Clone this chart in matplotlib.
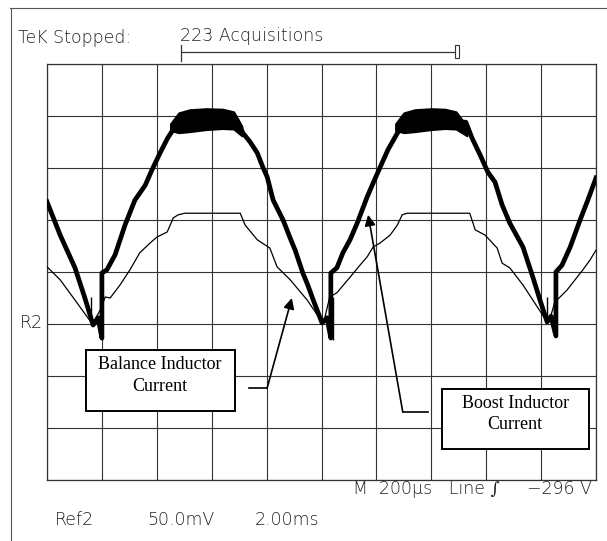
import numpy as np
import matplotlib.pyplot as plt
from matplotlib.patches import Rectangle
from matplotlib.lines import Line2D

# screen is 10 x 8 divisions, values below are in divisions
boost_x = [0.00, 0.24, 0.51, 0.69, 0.84, 0.93, 1.00, 1.00, 1.09, 1.24, 1.42, 1.60, 1.79,
           1.91, 2.06, 2.20, 2.33, 2.42, 2.93, 3.46, 3.57, 3.70, 3.83, 3.93, 4.01, 4.12,
           4.30, 4.43, 4.52, 4.66, 4.75, 4.85, 5.01, 5.10, 5.17, 5.17, 5.28, 5.39, 5.52,
           5.65, 5.83, 5.94, 6.07, 6.21, 6.36, 6.47, 7.07, 7.63, 7.74, 7.89, 8.03, 8.16,
           8.29, 8.43, 8.67, 8.85, 8.98, 9.11, 9.18, 9.27, 9.27, 9.38, 9.53, 9.71, 9.85, 10.00]
boost_y = [5.35, 4.71, 4.08, 3.50, 2.98, 3.12, 2.73, 3.98, 4.04, 4.33, 4.90, 5.38, 5.67,
           5.96, 6.29, 6.58, 6.79, 6.88, 6.92, 6.92, 6.67, 6.50, 6.29, 6.02, 5.83, 5.38,
           5.00, 4.65, 4.42, 3.98, 3.75, 3.46, 3.02, 3.12, 2.73, 3.98, 4.08, 4.37, 4.62,
           4.94, 5.44, 5.71, 6.02, 6.35, 6.63, 6.83, 6.92, 6.88, 6.58, 6.25, 5.92, 5.73,
           5.29, 4.94, 4.48, 3.90, 3.46, 3.04, 3.15, 2.77, 4.00, 4.13, 4.48, 5.00, 5.38, 5.81]

# ripple envelope on the two peaks of the boost current
band1_x = [2.25, 2.40, 2.60, 2.90, 3.20, 3.40, 3.55]
band2_x = [6.35, 6.50, 6.70, 7.00, 7.25, 7.45, 7.65]
band_top = [6.85, 7.06, 7.12, 7.14, 7.13, 7.08, 6.80]
band_bot = [6.72, 6.68, 6.70, 6.74, 6.76, 6.75, 6.62]

bal_x = [0.00, 0.24, 0.51, 0.84, 0.89, 0.97, 1.06, 1.15, 1.33, 1.51, 1.69, 1.88, 2.00,
         2.19, 2.30, 2.39, 2.51, 3.52, 3.61, 3.83, 4.06, 4.19, 4.43, 4.74, 5.01, 5.06,
         5.15, 5.28, 5.52, 5.70, 5.83, 5.94, 6.07, 6.25, 6.38, 6.47, 6.56, 7.70, 7.80,
         7.98, 8.20, 8.29, 8.43, 8.67, 9.11, 9.18, 9.25, 9.47, 9.76, 9.89, 10.00]
bal_y = [4.10, 3.85, 3.46, 2.98, 3.12, 3.27, 3.52, 3.50, 3.75, 4.04, 4.37, 4.56, 4.67,
         4.77, 5.04, 5.10, 5.13, 5.13, 4.90, 4.62, 4.46, 4.10, 3.85, 3.46, 3.04, 3.12,
         3.52, 3.60, 3.90, 4.13, 4.29, 4.48, 4.56, 4.71, 4.90, 5.10, 5.13, 5.13, 4.81,
         4.71, 4.46, 4.17, 4.08, 3.75, 3.04, 3.17, 3.42, 3.65, 4.04, 4.23, 4.42]

# glitch spikes around the zero crossings
spike_x = [0.80, 1.00, 5.21, 9.11, 9.27]
spike_lo = [2.98, 2.70, 2.69, 3.04, 2.83]
spike_hi = [3.52, 3.10, 3.52, 3.52, 3.40]

W, H = 607, 541
fig = plt.figure(figsize=(W / 100, H / 100), dpi=100)
fig.patch.set_facecolor('white')

def fx(px):
    return px / W

def fy(py):
    return 1 - py / H

ax = fig.add_axes([fx(47), fy(480), (596 - 47) / W, (480 - 64) / H])
ax.set_xlim(0, 10)
ax.set_ylim(0, 8)
ax.set_xticks(np.arange(0, 11))
ax.set_yticks(np.arange(0, 9))
ax.tick_params(length=0, labelbottom=False, labelleft=False)
ax.grid(True, color='#333333', lw=0.8)
for s in ax.spines.values():
    s.set_color('#333333')
    s.set_linewidth(0.9)

# traces
ax.plot(bal_x, bal_y, color='black', lw=0.9, zorder=3)
ax.plot(boost_x, boost_y, color='black', lw=3.4, zorder=4, solid_joinstyle='round')
ax.fill_between(band1_x, band_bot, band_top, color='black', lw=1.5, edgecolor='black', zorder=4)
ax.fill_between(band2_x, band_bot, band_top, color='black', lw=1.5, edgecolor='black', zorder=4)
ax.vlines(spike_x, spike_lo, spike_hi, color='black', lw=1.0, zorder=4)

# label boxes
serif = 'Liberation Serif'
ax.add_patch(Rectangle((0.71, 1.33), 3.42 - 0.71, 2.50 - 1.33, facecolor='white',
                       edgecolor='black', lw=1.4, zorder=6))
ax.text(2.06, 2.23, 'Balance Inductor', ha='center', va='center', fontsize=13,
        family=serif, zorder=7)
ax.text(2.06, 1.79, 'Current', ha='center', va='center', fontsize=13, family=serif, zorder=7)
ax.plot([3.68, 4.01], [1.77, 1.77], color='black', lw=1.2, zorder=6)
ax.annotate('', xy=(4.46, 3.50), xytext=(4.01, 1.77),
            arrowprops=dict(arrowstyle='-|>', color='black', lw=1.2, mutation_scale=16,
                            shrinkA=0, shrinkB=0), zorder=6)

ax.add_patch(Rectangle((7.19, 0.60), 9.87 - 7.19, 1.75 - 0.60, facecolor='white',
                       edgecolor='black', lw=1.4, zorder=6, clip_on=False))
ax.text(8.53, 1.48, 'Boost Inductor', ha='center', va='center', fontsize=13,
        family=serif, zorder=7)
ax.text(8.53, 1.06, 'Current', ha='center', va='center', fontsize=13, family=serif, zorder=7)
ax.plot([6.94, 6.48], [1.31, 1.31], color='black', lw=1.2, zorder=6)
ax.annotate('', xy=(5.85, 5.10), xytext=(6.48, 1.31),
            arrowprops=dict(arrowstyle='-|>', color='black', lw=1.2, mutation_scale=16,
                            shrinkA=0, shrinkB=0), zorder=6)

# scope readouts
scope = dict(fontsize=12.5, color='#222222', family=['DejaVu Sans', 'DejaVu Serif'],
             fontweight='light', va='center')
fig.text(fx(18), fy(38), 'TeK Stopped:', **scope)
fig.text(fx(180), fy(36), '223 Acquisitions', **scope)
fig.text(fx(20), fy(323), 'R2', **scope)
fig.text(fx(353), fy(489), 'M  200\u00b5s   Line \u222b     \u2212296 V', **scope)
fig.text(fx(55), fy(520), 'Ref2', **scope)
fig.text(fx(147), fy(520), '50.0mV', **scope)
fig.text(fx(255), fy(520), '2.00ms', **scope)

# record-length bracket and screen frame
fig.add_artist(Line2D([fx(182), fx(455)], [fy(52), fy(52)], color='#333333', lw=0.9))
fig.add_artist(Line2D([fx(181), fx(181)], [fy(45), fy(61)], color='#333333', lw=0.9))
fig.add_artist(Rectangle((fx(455), fy(58)), 4 / W, 13 / H, facecolor='white',
                         edgecolor='#333333', lw=0.8))
fig.add_artist(Line2D([fx(10), fx(607)], [fy(8), fy(8)], color='#555555', lw=0.8))
fig.add_artist(Line2D([fx(11), fx(11)], [fy(8), fy(541)], color='#555555', lw=0.8))

fig.savefig('out.png', dpi=100, facecolor='white')
